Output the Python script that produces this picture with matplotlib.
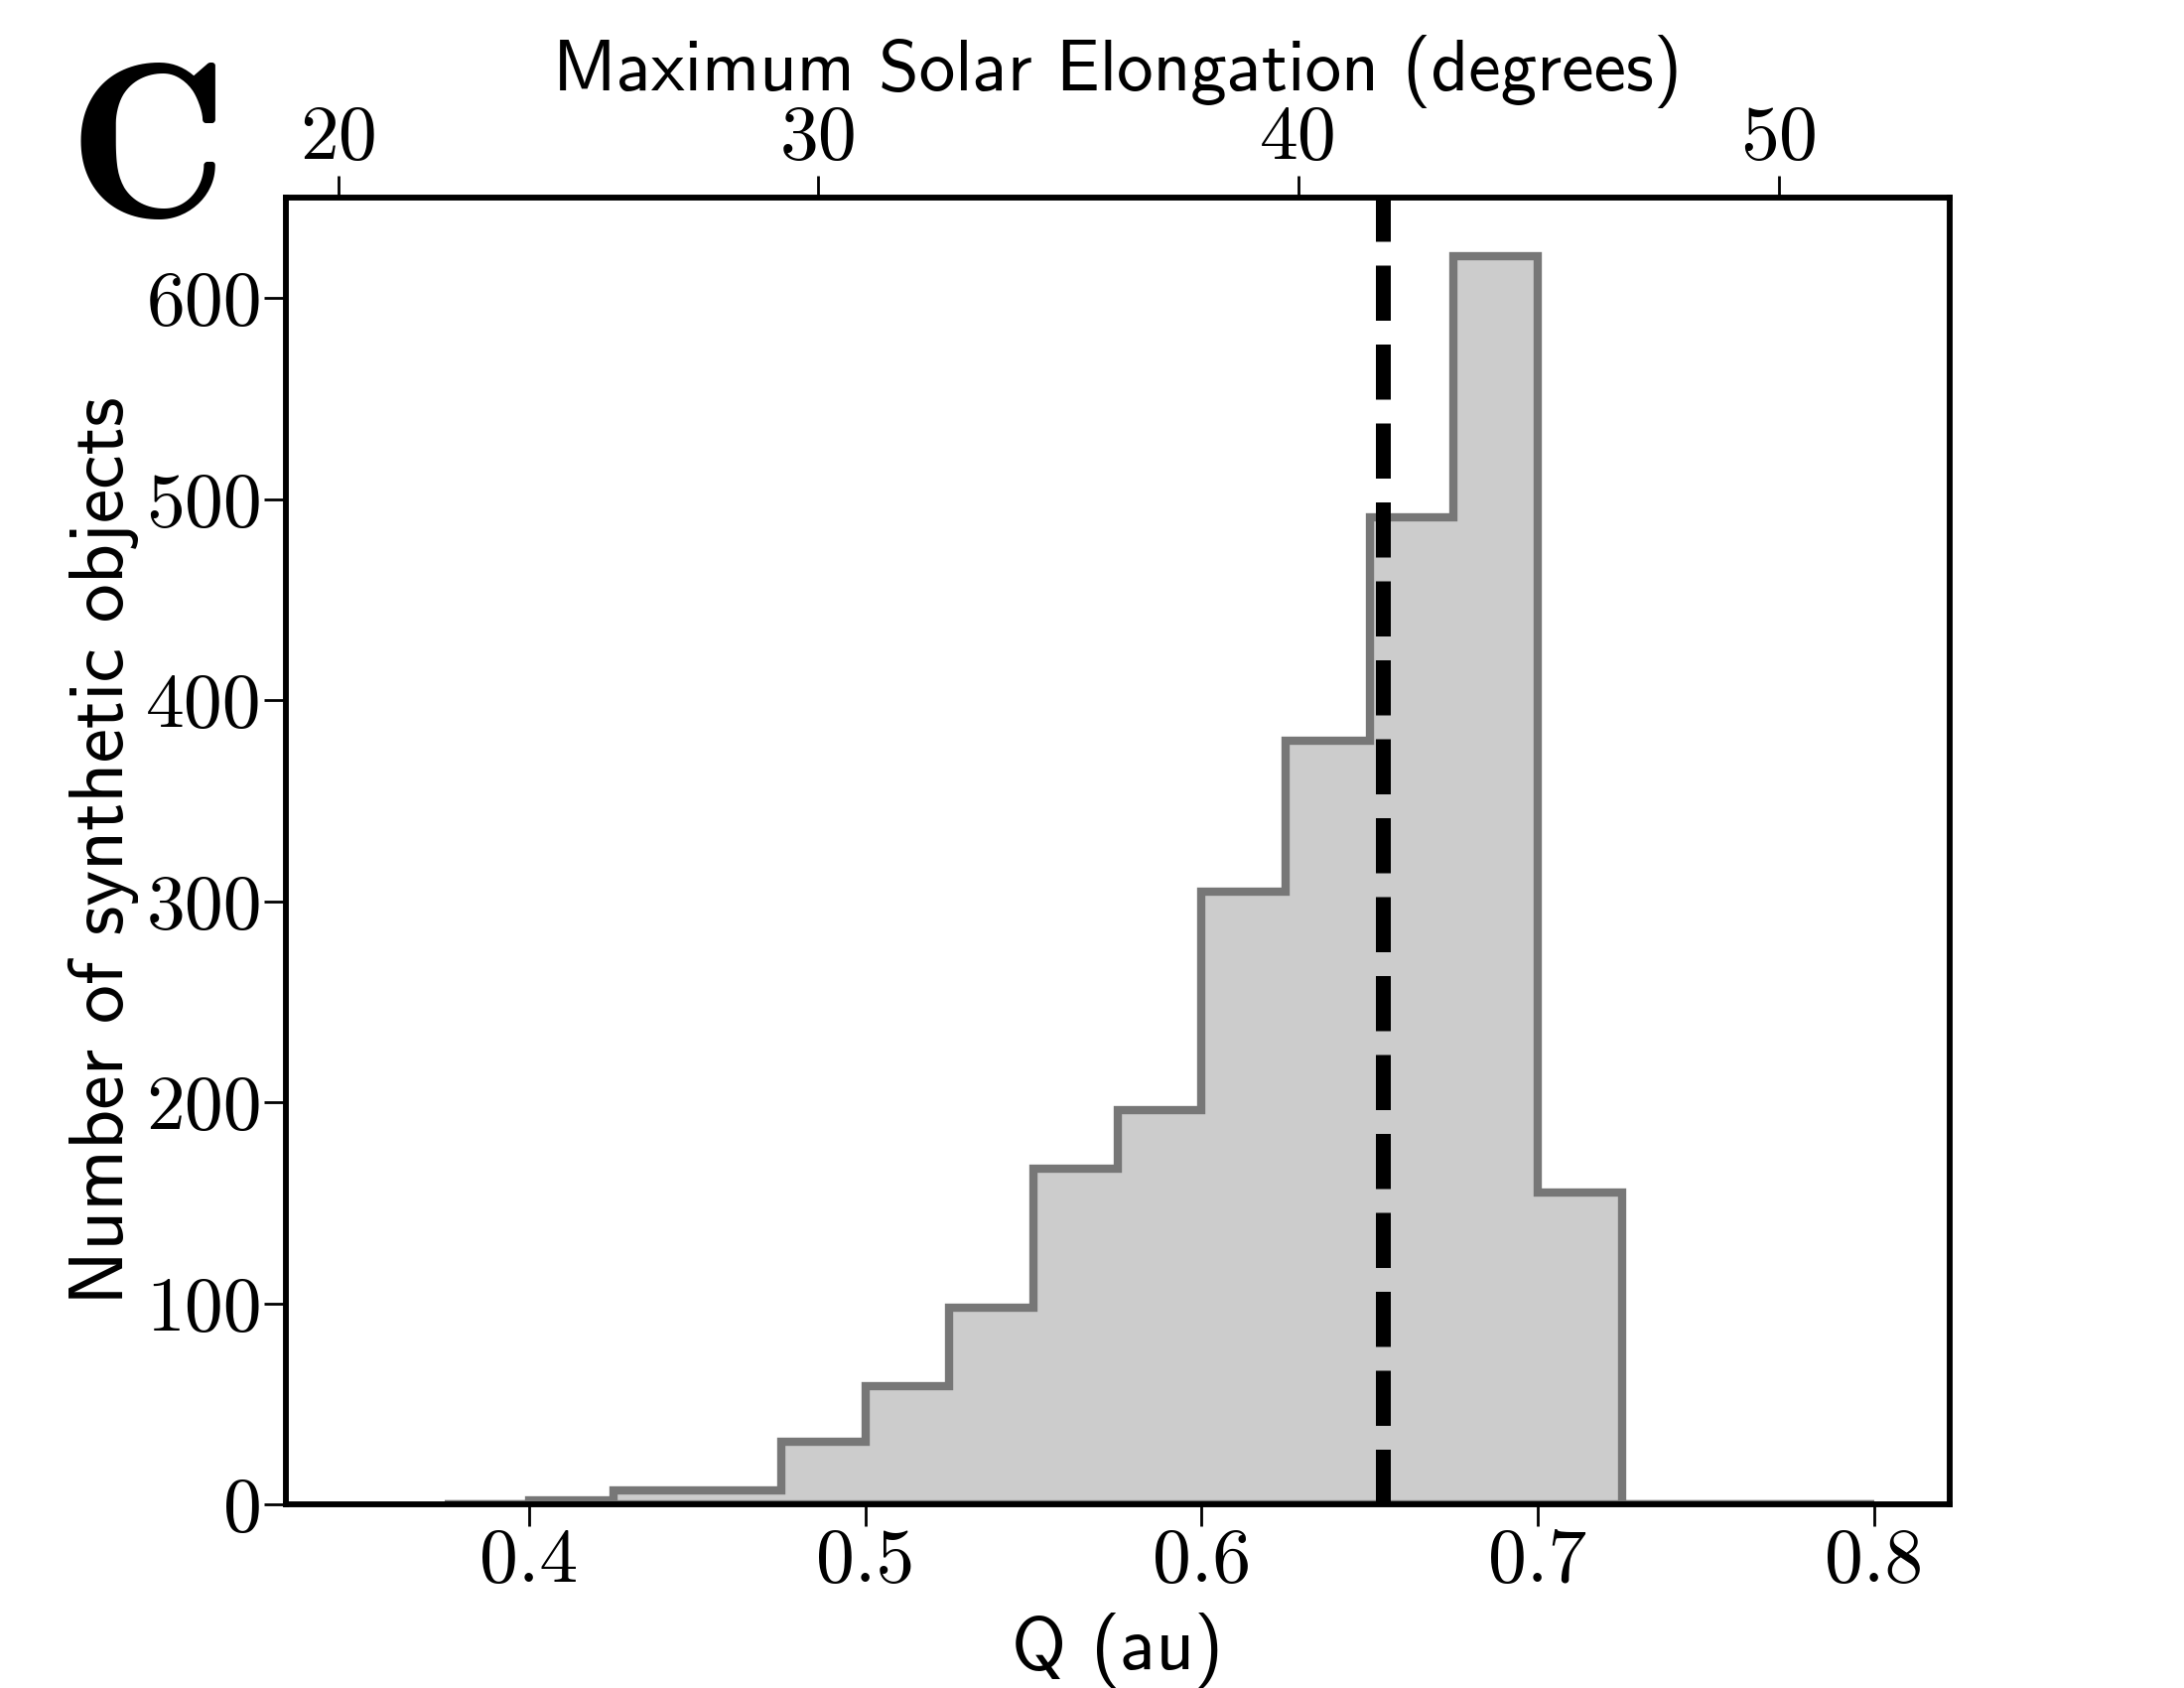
import matplotlib
matplotlib.use("Agg")
import matplotlib.pyplot as plt

# histogram of aphelion distance Q
bin_edges = [0.375, 0.400, 0.425, 0.450, 0.475, 0.500, 0.525, 0.550, 0.575,
             0.600, 0.625, 0.650, 0.675, 0.700, 0.725, 0.750, 0.775, 0.800]
counts = [0, 2, 7, 7, 31, 59, 98, 167, 196, 305, 380, 491, 621, 155, 0, 0, 0]
q_marker = 0.654

q_ticks = [0.4, 0.5, 0.6, 0.7, 0.8]
q_tick_labels = ["0.4", "0.5", "0.6", "0.7", "0.8"]
n_ticks = [0, 100, 200, 300, 400, 500, 600]
n_tick_labels = ["0", "100", "200", "300", "400", "500", "600"]
elong_ticks = [20, 30, 40, 50]
elong_tick_labels = ["20", "30", "40", "50"]

serif = "cmr10"
sans = "cmss10"

fig = plt.figure(figsize=(11, 8.5), dpi=200)
ax = fig.add_axes([0.1307, 0.1088, 0.762, 0.7741])

ax.hist(bin_edges[:-1], bins=bin_edges, weights=counts, histtype="stepfilled",
        facecolor="#cccccc", edgecolor="#777777", linewidth=3)
ax.axvline(q_marker, color="black", linestyle="--", linewidth=5.4)

ax.set_xlim(0.3275, 0.8225)
ax.set_ylim(0, 650)
ax.set_xticks(q_ticks)
ax.set_xticklabels(q_tick_labels, family=serif, fontsize=28)
ax.set_yticks(n_ticks)
ax.set_yticklabels(n_tick_labels, family=serif, fontsize=28)
ax.tick_params(axis="both", length=8, width=1, pad=0.5)
ax.set_xlabel("Q (au)", family=sans, fontsize=27, labelpad=6)
ax.set_ylabel("Number of synthetic objects", family=sans, fontsize=28, labelpad=2.5)
for sp in ax.spines.values():
    sp.set_linewidth(2)

# top axis: maximum solar elongation
ax2 = ax.twiny()
ax2.set_xlim(18.9, 53.56)
ax2.set_xticks(elong_ticks)
ax2.set_xticklabels(elong_tick_labels, family=serif, fontsize=28)
ax2.tick_params(axis="x", length=8, width=1, pad=0.5)
ax2.set_xlabel("Maximum Solar Elongation (degrees)", family=sans, fontsize=26.3, labelpad=5.5)
for sp in ax2.spines.values():
    sp.set_linewidth(2)

fig.text(0.031, 0.872, "C", family="cmb10", fontsize=80, va="baseline")

fig.savefig("out.png", dpi=200)
